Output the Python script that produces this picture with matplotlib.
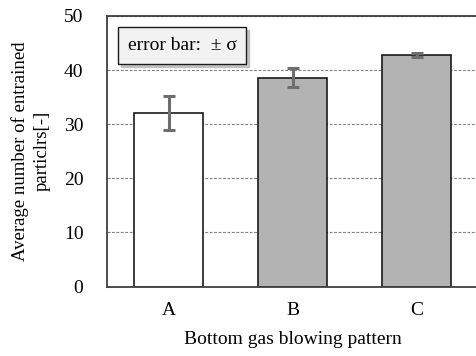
import matplotlib
matplotlib.use("Agg")
import matplotlib.pyplot as plt
from matplotlib.lines import Line2D

# Data
patterns = ["A", "B", "C"]
mean_counts = [32.1, 38.6, 42.8]
sigma = [3.1, 1.8, 0.35]
bar_colors = ["white", "#b3b3b3", "#b3b3b3"]

plt.rcParams["font.family"] = ["Liberation Serif", "DejaVu Serif"]

fig = plt.figure(figsize=(4.76, 3.56), dpi=100)
# axes runs off the right edge of the picture, like the reference
ax = fig.add_axes([107 / 476, 1 - 286.5 / 356, 371.5 / 476, 270.5 / 356])

x = range(len(patterns))
ax.bar(x, mean_counts, width=0.556, color=bar_colors, edgecolor="#1a1a1a",
       linewidth=1.2, zorder=2)
ax.errorbar(x, mean_counts, yerr=sigma, fmt="none", ecolor="#6e6e6e",
            elinewidth=2.2, capsize=4, capthick=2.2, zorder=3)

ax.set_xlim(-0.5, 2.5)
ax.set_ylim(0, 50)
ax.set_yticks([0, 10, 20, 30, 40, 50])
ax.set_xticks(list(x))
ax.set_xticklabels(patterns)
ax.yaxis.grid(True, linestyle=(0, (2.5, 1.5)), color="#808080", linewidth=0.8)
ax.set_axisbelow(True)
ax.tick_params(axis="both", labelsize=14)
ax.tick_params(axis="x", length=0, pad=11)
ax.tick_params(axis="y", direction="in", length=2.5, width=0.8,
               color="#808080", pad=17)

for side in ["left", "bottom", "top"]:
    ax.spines[side].set_color("#404040")
    ax.spines[side].set_linewidth(1.3)
ax.spines["right"].set_visible(False)

ax.set_xlabel("Bottom gas blowing pattern", fontsize=14, labelpad=9)
fig.text(31 / 476, 1 - 151 / 356, "Average number of entrained\nparticlrs[-]",
         rotation=90, ha="center", va="center", fontsize=13.5, linespacing=1.3)

handle = Line2D([], [], linestyle="none")
leg = ax.legend([handle], ["error bar:  \u00b1 \u03c3"], loc="upper left",
                bbox_to_anchor=(11 / 371.5, 1 - 11 / 270.5), frameon=True,
                fancybox=False, shadow={"color": "#b0b0b0", "alpha": 0.7},
                handlelength=0, handletextpad=0,
                fontsize=14, borderpad=0.5, borderaxespad=0)
leg.get_frame().set_edgecolor("#1a1a1a")
leg.get_frame().set_facecolor("#f2f2f2")
leg.get_frame().set_linewidth(1.0)
leg.get_frame().set_alpha(1)

fig.savefig("out.png", dpi=100)
